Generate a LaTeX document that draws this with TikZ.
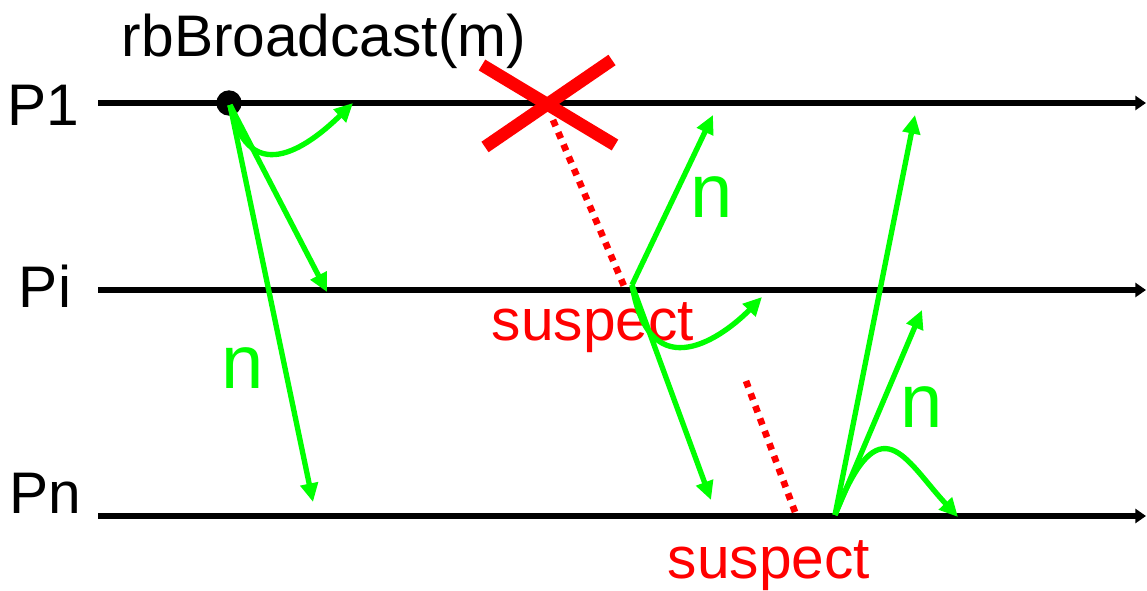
\documentclass[tikz,border=0pt]{standalone}
\usepackage{fontspec}
\setmainfont{Liberation Sans}
\usetikzlibrary{arrows.meta}
\definecolor{grn}{HTML}{00FF00}
\definecolor{rd}{HTML}{FF0000}
\begin{document}
\begin{tikzpicture}[x=0.75pt,y=-0.75pt,
  timeline/.style={line width=4.2pt,-{Triangle[length=8pt,width=10.5pt]}},
  msg/.style={grn,line width=4pt,-{Triangle[length=14pt,width=13pt]}},
  suspectline/.style={rd,line width=5pt,dash pattern=on 5pt off 5pt},
  crash/.style={rd,line width=9.5pt},
  proclabel/.style={font=\fontsize{44}{44}\selectfont,anchor=base,inner sep=0pt},
  redlabel/.style={rd,font=\fontsize{44}{44}\selectfont,anchor=base,inner sep=0pt},
  nlabel/.style={grn,font=\fontsize{57}{57}\selectfont,anchor=base,inner sep=0pt},
  eventdot/.style={circle,fill=black,inner sep=0pt,minimum size=19pt}]
\useasboundingbox (0,0) rectangle (1147,591);

% process lines
\coordinate (p1s) at (98,103);  \coordinate (p1e) at (1146,103);
\coordinate (pis) at (98,290);  \coordinate (pie) at (1146,290);
\coordinate (pns) at (98,516);  \coordinate (pne) at (1146,516);
\draw[timeline] (p1s) -- (p1e);
\draw[timeline] (pis) -- (pie);
\draw[timeline] (pns) -- (pne);

% labels
\node[proclabel] (l1) at (43,126) {P1};
\node[proclabel] (li) at (45,308) {Pi};
\node[proclabel] (ln) at (45,514) {Pn};
\node[proclabel] (rb) at (324,57) {rbBroadcast(m)};

% broadcast from P1
\node[eventdot] (a) at (229,103) {};
\coordinate (a0) at (230,105);
\coordinate (a1) at (353,103);
\coordinate (a2) at (327,292);
\coordinate (a3) at (313,502);
\draw[msg] (a0) .. controls (250,195) and (315,140) .. (a1);
\draw[msg] (a0) -- (a2);
\draw[msg] (a0) -- (a3);
\node[nlabel] (n1) at (243,389) {n};

% crash of P1
\coordinate (x1) at (482,65);  \coordinate (x2) at (615,145);
\coordinate (x3) at (485,147); \coordinate (x4) at (612,60);
\draw[crash] (x1) -- (x2);
\draw[crash] (x3) -- (x4);

% suspicion at Pi
\coordinate (s1a) at (553,120);
\coordinate (s1b) at (624,286);
\draw[suspectline] (s1a) -- (s1b);
\node[redlabel] (sus1) at (593,341) {suspect};

% relay from Pi
\coordinate (b) at (632,285);
\coordinate (b1) at (713,115);
\coordinate (b2) at (711,500);
\coordinate (b3) at (762,297);
\draw[msg] (b) -- (b1);
\draw[msg] (b) -- (b2);
\draw[msg] (b) .. controls (650,392) and (725,335) .. (b3);
\node[nlabel] (n2) at (712,218) {n};

% suspicion at Pn
\coordinate (s2a) at (746,381);
\coordinate (s2b) at (795,512);
\draw[suspectline] (s2a) -- (s2b);
\node[redlabel] (sus2) at (769,579) {suspect};

% relay from Pn
\coordinate (c) at (835,515);
\coordinate (c1) at (915,115);
\coordinate (c2) at (922,310);
\coordinate (c3) at (958,517);
\draw[msg] (c) -- (c1);
\draw[msg] (c) -- (c2);
\draw[msg] (c) .. controls (880,400) and (905,460) .. (c3);
\node[nlabel] (n3) at (922,428) {n};
\end{tikzpicture}
\end{document}
